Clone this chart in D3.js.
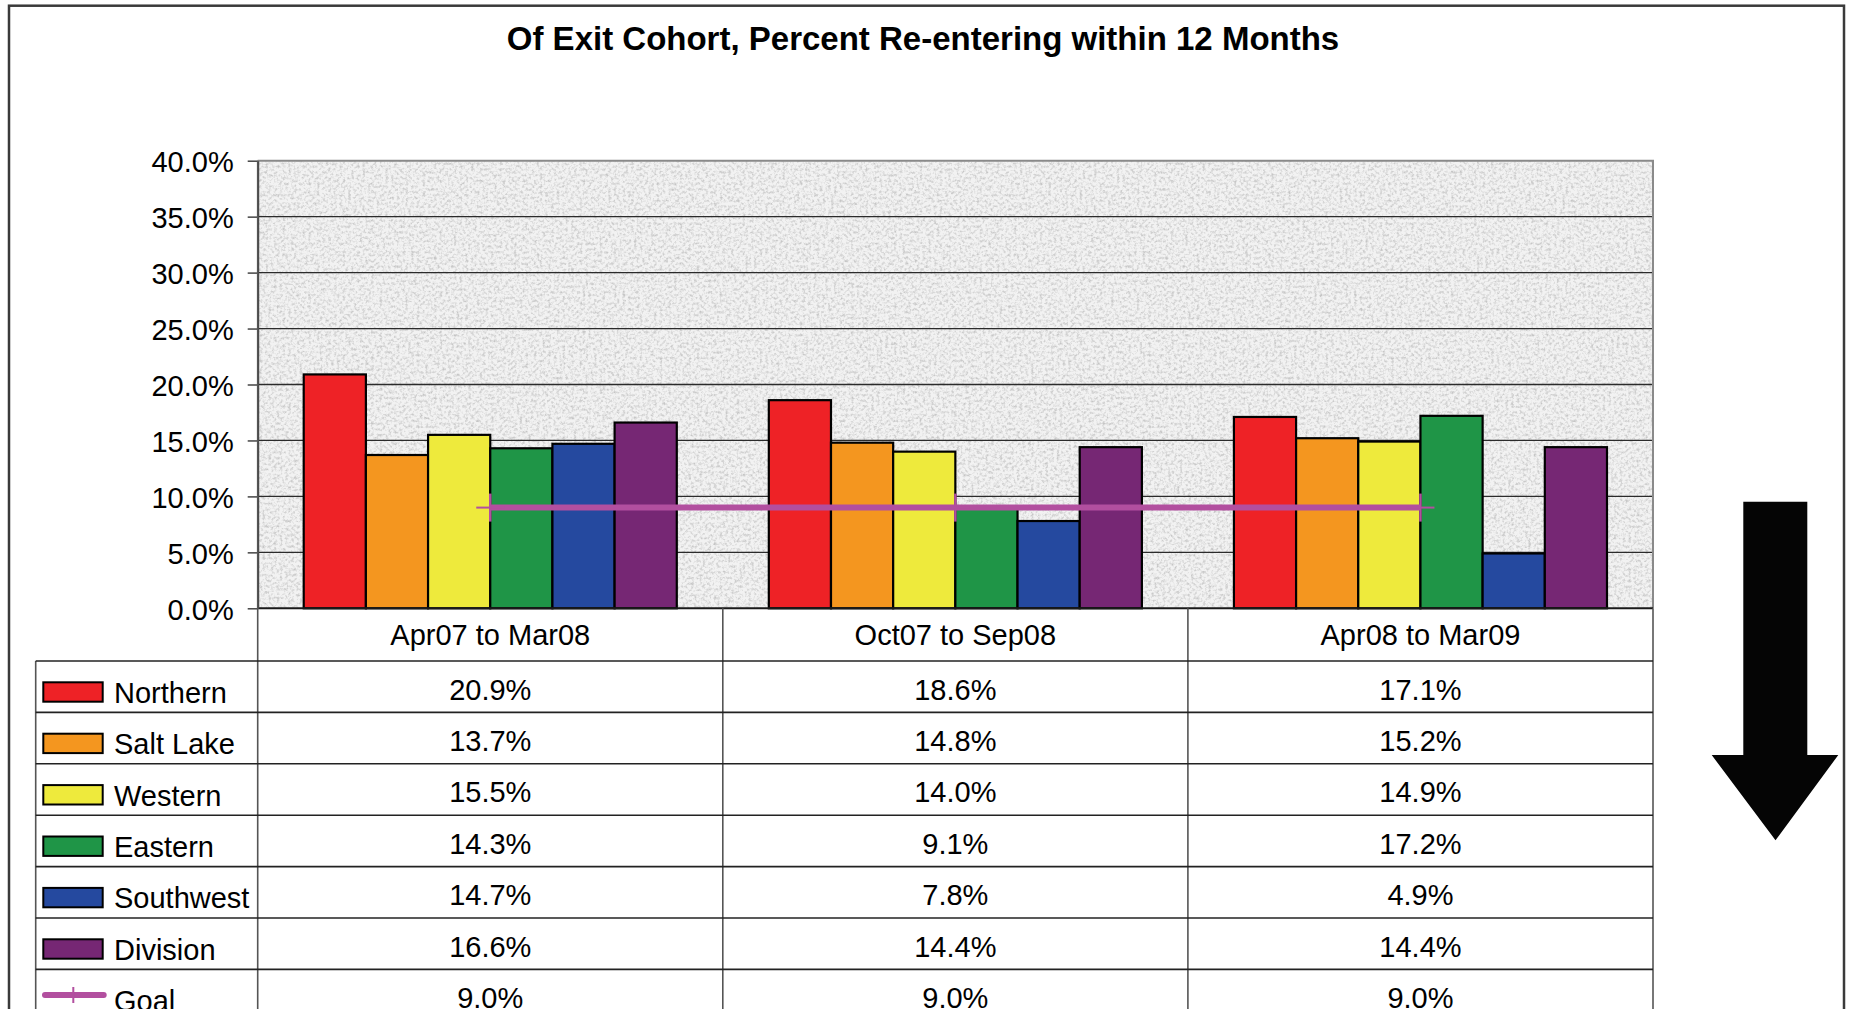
<!DOCTYPE html>
<html>
<head>
<meta charset="utf-8">
<script src="https://cdn.jsdelivr.net/npm/d3@7"></script>
<style>
  html, body { margin: 0; padding: 0; background: #fff; }
  svg { display: block; font-family: "Liberation Sans", Arial, Helvetica, sans-serif; }
</style>
</head>
<body>
<script>
// ---------- data ----------
const categories = ["Apr07 to Mar08", "Oct07 to Sep08", "Apr08 to Mar09"];
const seriesNames = ["Northern", "Salt Lake", "Western", "Eastern", "Southwest", "Division"];
const northern  = [20.9, 18.6, 17.1];
const saltLake  = [13.7, 14.8, 15.2];
const western   = [15.5, 14.0, 14.9];
const eastern   = [14.3, 9.1, 17.2];
const southwest = [14.7, 7.8, 4.9];
const division  = [16.6, 14.4, 14.4];
const goal      = [9.0, 9.0, 9.0];
const yTicks = [0, 5, 10, 15, 20, 25, 30, 35, 40];
const chartTitle = "Of Exit Cohort, Percent Re-entering within 12 Months";

const seriesValues = [northern, saltLake, western, eastern, southwest, division];
const seriesColors = ["#EE2226", "#F4961F", "#EEEA3C", "#1F9547", "#25499F", "#762774"];
const goalColor = "#B24F9F";

(function () {
// ---------- layout ----------
const W = 1851, H = 1009;
const pL = 257.7, pR = 1653, pT = 160.7, pB = 608.3;
const rowTop0 = 661, rowH = 51.4, legendLeft = 35.7;
const FS = 29;

const svg = d3.select("body").append("svg").attr("width", W).attr("height", H);

// texture filter for plot background
const defs = svg.append("defs");
const f = defs.append("filter").attr("id", "tex")
  .attr("x", 0).attr("y", 0).attr("width", 1).attr("height", 1)
  .attr("filterUnits", "objectBoundingBox");
f.append("feTurbulence").attr("type", "fractalNoise").attr("baseFrequency", "0.35")
  .attr("numOctaves", 4).attr("seed", 11).attr("result", "n");
f.append("feColorMatrix").attr("type", "matrix")
  .attr("values", "0 0 0 0 0.5  0 0 0 0 0.5  0 0 0 0 0.5  2.4 0 0 0 -1.05");

// outer frame
svg.append("rect").attr("x", 9).attr("y", 5.7).attr("width", 1835).attr("height", 1100)
  .attr("fill", "none").attr("stroke", "#3a3a3a").attr("stroke-width", 2.5);

// title
svg.append("text").attr("x", 923).attr("y", 50).attr("text-anchor", "middle")
  .attr("font-size", 33).attr("font-weight", "bold").attr("fill", "#000").text(chartTitle);

// scales
const x = d3.scaleBand().domain(categories).range([pL, pR]).padding(0);
const xs = d3.scaleBand().domain(seriesNames).range([0, x.bandwidth()])
  .paddingInner(0).paddingOuter(0.74);
const y = d3.scaleLinear().domain([0, 40]).range([pB, pT]);

// plot background
svg.append("rect").attr("x", pL).attr("y", pT).attr("width", pR - pL).attr("height", pB - pT)
  .attr("fill", "#f2f2f2");
svg.append("rect").attr("x", pL).attr("y", pT).attr("width", pR - pL).attr("height", pB - pT)
  .attr("fill", "#fff").attr("filter", "url(#tex)").attr("opacity", 0.8);

// gridlines
svg.append("g").selectAll("line").data(yTicks.filter(d => d > 0 && d < 40)).join("line")
  .attr("x1", pL).attr("x2", pR).attr("y1", d => y(d)).attr("y2", d => y(d))
  .attr("stroke", "#2b2b2b").attr("stroke-width", 1.3);

// plot border (top/right gray)
svg.append("path").attr("d", `M${pL},${pT}H${pR}V${pB}`)
  .attr("fill", "none").attr("stroke", "#8a8a8a").attr("stroke-width", 2);

// bars
const barData = [];
seriesNames.forEach((s, i) => categories.forEach((c, j) => barData.push({ s, c, v: seriesValues[i][j], color: seriesColors[i] })));
svg.append("g").selectAll("rect").data(barData).join("rect")
  .attr("x", d => x(d.c) + xs(d.s))
  .attr("y", d => y(d.v))
  .attr("width", xs.bandwidth())
  .attr("height", d => y(0) - y(d.v))
  .attr("fill", d => d.color)
  .attr("stroke", "#000").attr("stroke-width", 2.2);

// baseline
svg.append("line").attr("x1", pL).attr("x2", pR).attr("y1", pB).attr("y2", pB)
  .attr("stroke", "#1a1a1a").attr("stroke-width", 2);

// goal line
const goalPts = categories.map((c, j) => [x(c) + x.bandwidth() / 2, y(goal[j])]);
svg.append("path").attr("d", d3.line()(goalPts)).attr("fill", "none")
  .attr("stroke", goalColor).attr("stroke-width", 6);
const gm = svg.append("g").selectAll("g").data(goalPts).join("g");
gm.append("line").attr("x1", d => d[0]).attr("x2", d => d[0]).attr("y1", d => d[1] - 14).attr("y2", d => d[1] + 14)
  .attr("stroke", goalColor).attr("stroke-width", 2.5);
gm.append("line").attr("x1", d => d[0] - 14).attr("x2", d => d[0] + 14).attr("y1", d => d[1]).attr("y2", d => d[1])
  .attr("stroke", goalColor).attr("stroke-width", 2);

// y axis
const yAxis = svg.append("g").attr("transform", `translate(${pL},0)`)
  .call(d3.axisLeft(y).tickValues(yTicks).tickSize(10).tickSizeOuter(0).tickPadding(14)
    .tickFormat(d => d.toFixed(1) + "%"));
yAxis.select(".domain").attr("stroke", "#444").attr("stroke-width", 2);
yAxis.selectAll(".tick line").attr("stroke", "#444").attr("stroke-width", 1.5);
yAxis.selectAll(".tick text").attr("font-size", FS).attr("font-family", "Liberation Sans, Arial, sans-serif")
  .attr("fill", "#000").attr("dy", "0.38em");

// ---------- data table ----------
const nRows = seriesNames.length + 1;
const tbl = svg.append("g");
const colX = categories.map(c => x(c)).concat([pR]);
tbl.selectAll("line.col").data(colX).join("line").attr("class", "col")
  .attr("x1", d => d).attr("x2", d => d).attr("y1", (d, i) => i === 0 ? pT : pB).attr("y2", H + 10)
  .attr("stroke", "#555").attr("stroke-width", 1.6);
tbl.append("line").attr("x1", legendLeft).attr("x2", legendLeft).attr("y1", rowTop0).attr("y2", H + 10)
  .attr("stroke", "#555").attr("stroke-width", 1.6);
const rowYs = d3.range(nRows).map(i => rowTop0 + i * rowH);
tbl.selectAll("line.row").data(rowYs).join("line").attr("class", "row")
  .attr("x1", legendLeft).attr("x2", pR).attr("y1", d => d).attr("y2", d => d)
  .attr("stroke", "#222").attr("stroke-width", 1.6);

tbl.selectAll("text.cat").data(categories).join("text").attr("class", "cat")
  .attr("x", d => x(d) + x.bandwidth() / 2).attr("y", 645)
  .attr("text-anchor", "middle").attr("font-size", FS).attr("fill", "#000").text(d => d);

const rowNames = seriesNames.concat(["Goal"]);
const rowVals = seriesValues.concat([goal]);
rowNames.forEach((name, i) => {
  const ry = rowTop0 + i * rowH;
  const g = tbl.append("g");
  if (i < seriesNames.length) {
    g.append("rect").attr("x", 43.3).attr("y", ry + 21.3).attr("width", 59.4).attr("height", 19.4)
      .attr("fill", seriesColors[i]).attr("stroke", "#000").attr("stroke-width", 2);
  } else {
    g.append("line").attr("x1", 45).attr("x2", 103.7).attr("y1", ry + 25.6).attr("y2", ry + 25.6)
      .attr("stroke", goalColor).attr("stroke-width", 6).attr("stroke-linecap", "round");
    g.append("line").attr("x1", 73.3).attr("x2", 73.3).attr("y1", ry + 17.6).attr("y2", ry + 33.6)
      .attr("stroke", goalColor).attr("stroke-width", 2);
  }
  g.append("text").attr("x", 114).attr("y", ry + 41.7).attr("font-size", FS).attr("fill", "#000").text(name);
  g.selectAll("text.v").data(rowVals[i]).join("text").attr("class", "v")
    .attr("x", (d, j) => x(categories[j]) + x.bandwidth() / 2).attr("y", ry + 38.5)
    .attr("text-anchor", "middle").attr("font-size", FS).attr("fill", "#000")
    .text(d => d.toFixed(1) + "%");
});

// ---------- downward arrow ----------
svg.append("path")
  .attr("d", "M1743.3,501.7 H1807.3 V755 H1838.3 L1775.5,840.3 L1711.7,755 H1743.3 Z")
  .attr("fill", "#050505");
})();
</script>
</body>
</html>
